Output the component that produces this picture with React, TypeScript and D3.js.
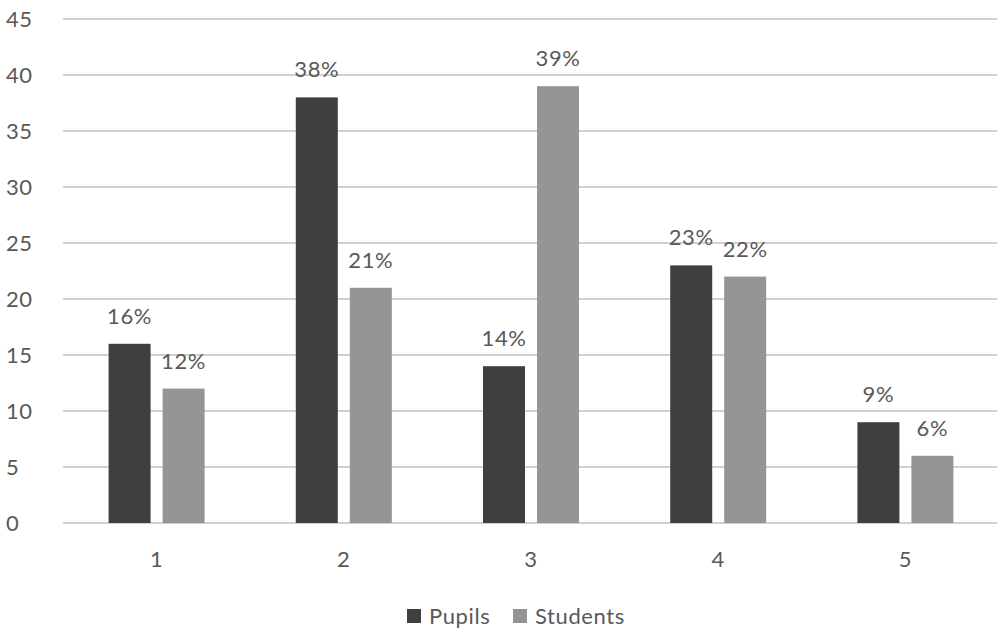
import React, { useEffect, useRef } from 'react';
import * as d3 from 'd3';

const categories: string[] = ['1', '2', '3', '4', '5'];
const pupils: number[] = [16, 38, 14, 23, 9];
const students: number[] = [12, 21, 39, 22, 6];
const seriesNames: string[] = ['Pupils', 'Students'];
const yTicks: number[] = [0, 5, 10, 15, 20, 25, 30, 35, 40, 45];

const App: React.FC = () => {
  const ref = useRef<SVGSVGElement | null>(null);

  useEffect(() => {
    if (!ref.current) return;
    const width = 997;
    const height = 634;
    const left = 63;
    const plotW = 936;
    const top = 19;
    const bottom = 523;
    const font = "'Century Gothic', 'Lato', 'DejaVu Sans', sans-serif";
    const textColor = '#595959';
    const colors = ['#3f3f3f', '#959595'];

    const svg = d3.select(ref.current).attr('width', width).attr('height', height);
    svg.selectAll('*').remove();

    const x = d3.scaleBand<string>().domain(categories).range([left, left + plotW]);
    const y = d3.scaleLinear().domain([0, 45]).range([bottom, top]);
    const barW = 42;
    const gap = 12;

    const style = (sel: d3.Selection<SVGTextElement, any, any, any>) =>
      sel
        .style('font-family', font)
        .style('font-size', '22px')
        .style('letter-spacing', '0.6px')
        .style('fill', textColor);

    // gridlines
    svg
      .append('g')
      .selectAll('line')
      .data(yTicks)
      .enter()
      .append('line')
      .attr('x1', left)
      .attr('x2', left + plotW)
      .attr('y1', (d) => y(d))
      .attr('y2', (d) => y(d))
      .attr('stroke', '#d0d0d0')
      .attr('stroke-width', 2);

    // y labels
    svg
      .append('g')
      .selectAll('text')
      .data(yTicks)
      .enter()
      .append('text')
      .attr('x', 6)
      .attr('y', (d) => y(d) + 8)
      .text((d) => d)
      .call(style);

    // x labels
    svg
      .append('g')
      .selectAll('text')
      .data(categories)
      .enter()
      .append('text')
      .attr('x', (d) => (x(d) as number) + x.bandwidth() / 2)
      .attr('y', 567)
      .attr('text-anchor', 'middle')
      .text((d) => d)
      .call(style);

    const series = [pupils, students];
    series.forEach((vals, si) => {
      const offset = si === 0 ? -gap / 2 - barW : gap / 2;
      const g = svg.append('g');
      g.selectAll('rect')
        .data(vals)
        .enter()
        .append('rect')
        .attr('x', (_, i) => (x(categories[i]) as number) + x.bandwidth() / 2 + offset)
        .attr('y', (d) => y(d))
        .attr('width', barW)
        .attr('height', (d) => bottom - y(d))
        .attr('fill', colors[si]);
      g.selectAll('text')
        .data(vals)
        .enter()
        .append('text')
        .attr('x', (_, i) => (x(categories[i]) as number) + x.bandwidth() / 2 + offset + barW / 2)
        .attr('y', (d) => y(d) - 20)
        .attr('text-anchor', 'middle')
        .text((d) => `${d}%`)
        .call(style);
    });

    // legend
    const legend = svg.append('g');
    const legendX = [407, 513];
    seriesNames.forEach((name, i) => {
      legend
        .append('rect')
        .attr('x', legendX[i])
        .attr('y', 609)
        .attr('width', 14)
        .attr('height', 14)
        .attr('fill', colors[i]);
      legend
        .append('text')
        .attr('x', legendX[i] + 22)
        .attr('y', 624)
        .text(name)
        .call(style);
    });
  }, []);

  return <svg ref={ref} style={{ position: 'absolute', left: 0, top: 0 }}></svg>;
};

export default App;
